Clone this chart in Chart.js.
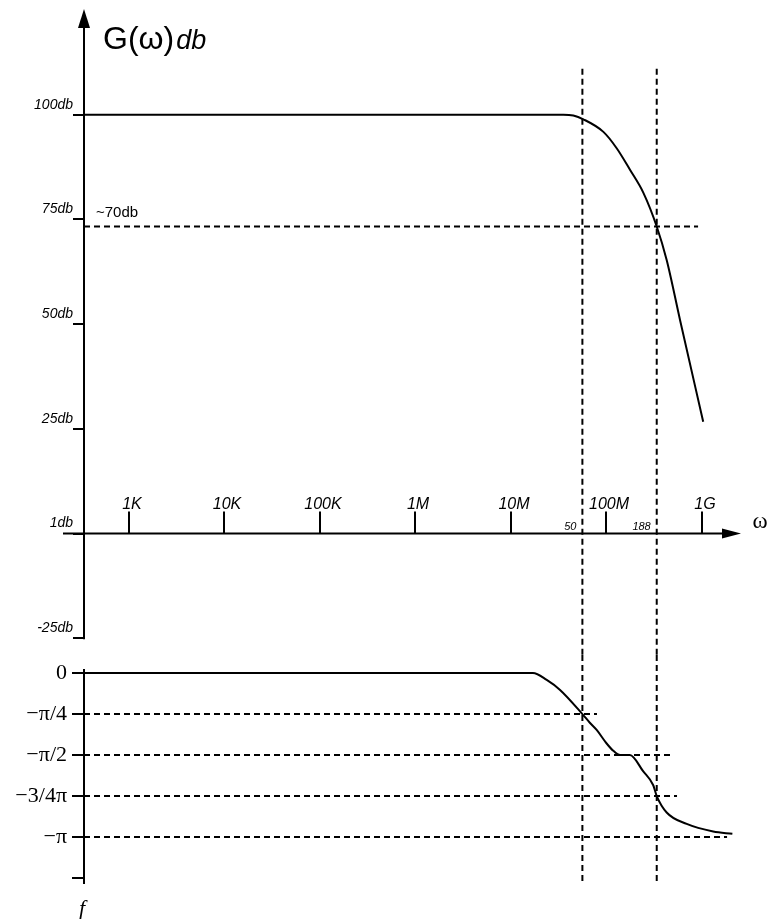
<!DOCTYPE html>
<html>
<head>
<meta charset="utf-8">
<script src="https://cdn.jsdelivr.net/npm/chart.js@4.4.1/dist/chart.umd.min.js"></script>
<style>
  html, body { margin: 0; padding: 0; background: #fff; }
  #bode { display: block; }
</style>
</head>
<body>
<canvas id="bode" width="768" height="919"></canvas>
<script>
// log frequency axis (rad/s)
const X_MIN = 340;
const X_MAX = 2.5e9;
const FREQ_TICKS = [1e3, 1e4, 1e5, 1e6, 1e7, 1e8, 1e9];
const FREQ_LABELS = ['1K', '10K', '100K', '1M', '10M', '100M', '1G'];

// gain axis (db)
const MAG_MIN = -29, MAG_MAX = 125;
const MAG_TICKS = [-25, 0, 25, 50, 75, 100];
const MAG_LABELS = ['-25db', '1db', '25db', '50db', '75db', '100db'];

// phase axis, in units of pi
const PH_MIN = -1.28, PH_MAX = 0.11;
const PH_TICKS = [0, -0.25, -0.5, -0.75, -1, -1.25];
const PH_LABELS = ['0', '−π/4', '−π/2', '−3/4π', '−π', ''];

// G(w) in db
const magFreq = [340, 2.9e7, 3.54e7, 4.5e7, 5.73e7, 9.29e7, 1.28e8, 1.77e8, 2.43e8, 3.36e8, 4.27e8, 5.89e8, 1.03e9];
const magDb   = [100, 100, 100, 99.8, 98.9, 95.9, 92.0, 86.8, 81.4, 73.3, 65.3, 51.0, 26.7];

// phase (x pi)
const phFreq = [340, 1.7e7, 2.37e7, 3.27e7, 5.6e7, 6.7e7, 7.9e7, 1.0e8, 1.18e8, 1.39e8, 1.76e8, 2.43e8, 3.09e8, 3.36e8, 4.27e8, 6.92e8, 1.31e9, 2.08e9];
const phVal   = [0, 0, -0.042, -0.103, -0.25, -0.303, -0.347, -0.428, -0.474, -0.5, -0.5, -0.6, -0.684, -0.75, -0.85, -0.92, -0.966, -0.98];

// corner frequencies (dashed verticals)
const CUT_FREQ = [5.6e7, 3.36e8];
const CUT_LABELS = ['50', '188'];
const CUT_TOP_DB = 111;

// ~70db guide
const REF_DB = 73.3;
const REF_END = 9.1e8;

// phase guides and where each one stops
const PH_GUIDES = [-0.25, -0.5, -0.75, -1];
const PH_GUIDE_END = [7.96e7, 4.86e8, 5.48e8, 1.83e9];

const solid = { borderColor: '#000', borderWidth: 2, pointRadius: 0, fill: false };
const dashed = { borderColor: '#000', borderWidth: 2, borderDash: [6, 4], pointRadius: 0, fill: false, tension: 0 };
const zip = (xs, ys) => xs.map((x, i) => ({ x, y: ys[i] }));

const datasets = [
  { ...solid, yAxisID: 'yMag', data: zip(magFreq, magDb), cubicInterpolationMode: 'monotone' },
  { ...solid, yAxisID: 'yPh', data: zip(phFreq, phVal), cubicInterpolationMode: 'monotone' },
  { ...dashed, yAxisID: 'yMag', data: [{ x: X_MIN, y: REF_DB }, { x: REF_END, y: REF_DB }] }
];
PH_GUIDES.forEach((v, i) => {
  datasets.push({ ...dashed, yAxisID: 'yPh', data: [{ x: X_MIN, y: v }, { x: PH_GUIDE_END[i], y: v }] });
});
CUT_FREQ.forEach(f => {
  datasets.push({ ...dashed, yAxisID: 'yMag', data: [{ x: f, y: CUT_TOP_DB }, { x: f, y: MAG_MIN }] });
  datasets.push({ ...dashed, yAxisID: 'yPh', data: [{ x: f, y: PH_MAX }, { x: f, y: PH_MIN }] });
});

const SANS = "'Liberation Sans', Arial, sans-serif";
const SERIF = "'Liberation Serif', 'Times New Roman', serif";

// axis lines, arrows, frequency ticks and the free text
const bodeAxes = {
  id: 'bodeAxes',
  afterDraw(chart) {
    const { ctx, chartArea, scales: { x, yMag, yPh } } = chart;
    const ax = chartArea.left;
    const y0 = yMag.getPixelForValue(0);
    const seg = (x1, y1, x2, y2) => { ctx.beginPath(); ctx.moveTo(x1, y1); ctx.lineTo(x2, y2); ctx.stroke(); };
    const tri = (p) => { ctx.beginPath(); ctx.moveTo(p[0], p[1]); ctx.lineTo(p[2], p[3]); ctx.lineTo(p[4], p[5]); ctx.closePath(); ctx.fill(); };

    ctx.save();
    ctx.strokeStyle = '#000';
    ctx.fillStyle = '#000';
    ctx.lineWidth = 2;

    // gain axis + arrow
    seg(ax, chartArea.top + 12, ax, yMag.getPixelForValue(-25) + 1);
    tri([ax, chartArea.top - 1, ax - 6, chartArea.top + 18, ax + 6, chartArea.top + 18]);
    // phase axis
    seg(ax, yPh.getPixelForValue(0.025), ax, chartArea.bottom + 1);
    // frequency axis + arrow
    seg(ax - 21, y0, chartArea.right - 12, y0);
    tri([chartArea.right + 1, y0, chartArea.right - 18, y0 - 5, chartArea.right - 18, y0 + 5]);

    ctx.font = 'italic 16px ' + SANS;
    ctx.textAlign = 'center';
    ctx.textBaseline = 'alphabetic';
    FREQ_TICKS.forEach((f, i) => {
      const px = Math.round(x.getPixelForValue(f));
      seg(px, y0, px, y0 - 22);
      ctx.fillText(FREQ_LABELS[i], px + 3, y0 - 25);
    });

    ctx.font = 'italic 11px ' + SANS;
    ctx.textAlign = 'right';
    CUT_FREQ.forEach((f, i) => {
      ctx.fillText(CUT_LABELS[i], x.getPixelForValue(f) - 6, y0 - 4);
    });

    ctx.font = '23px ' + SERIF;
    ctx.textAlign = 'center';
    ctx.textBaseline = 'middle';
    ctx.fillText('ω', chartArea.right + 20, y0 - 12);
    ctx.font = 'italic 22px ' + SERIF;
    ctx.fillText('f', ax - 2, chartArea.bottom + 26);

    ctx.textAlign = 'left';
    ctx.textBaseline = 'alphabetic';
    ctx.font = '15px ' + SANS;
    ctx.fillText('~70db', ax + 12, yMag.getPixelForValue(REF_DB) - 10);

    ctx.font = '32px ' + SANS;
    const tx = ax + 19, ty = chartArea.top + 39;
    ctx.fillText('G(ω)', tx, ty);
    const w = ctx.measureText('G(ω)').width;
    ctx.font = 'italic 27px ' + SANS;
    ctx.fillText('db', tx + w + 2, ty);
    ctx.restore();
  }
};

const yBase = {
  type: 'linear',
  position: 'left',
  stack: 'bode',
  bounds: 'data',
  afterFit: s => { s.width = 84; s.paddingTop = 0; s.paddingBottom = 0; },
  border: { display: false }
};

new Chart(document.getElementById('bode'), {
  type: 'line',
  data: { datasets },
  options: {
    responsive: false,
    animation: false,
    devicePixelRatio: 1,
    layout: { padding: { left: 0, top: 10, right: 28, bottom: 36 } },
    plugins: { legend: { display: false }, tooltip: { enabled: false } },
    scales: {
      x: { type: 'logarithmic', min: X_MIN, max: X_MAX, display: false },
      yPh: {
        ...yBase,
        stackWeight: 228,
        min: PH_MIN,
        max: PH_MAX,
        afterBuildTicks: s => { s.ticks = PH_TICKS.map(v => ({ value: v })); },
        grid: { drawOnChartArea: false, tickLength: 12, lineWidth: 2, color: '#000' },
        ticks: {
          callback: v => PH_LABELS[PH_TICKS.indexOf(v)],
          padding: 5,
          color: '#000',
          autoSkip: false,
          font: { family: SERIF, size: 22 }
        }
      },
      yMag: {
        ...yBase,
        stackWeight: 645,
        min: MAG_MIN,
        max: MAG_MAX,
        afterBuildTicks: s => { s.ticks = MAG_TICKS.map(v => ({ value: v })); },
        grid: { drawOnChartArea: false, tickLength: 11, lineWidth: 2, color: '#000' },
        ticks: {
          callback: v => MAG_LABELS[MAG_TICKS.indexOf(v)],
          padding: 0,
          labelOffset: -10,
          color: '#000',
          autoSkip: false,
          font: { family: SANS, size: 14, style: 'italic' }
        }
      }
    }
  },
  plugins: [bodeAxes]
});
</script>
</body>
</html>
